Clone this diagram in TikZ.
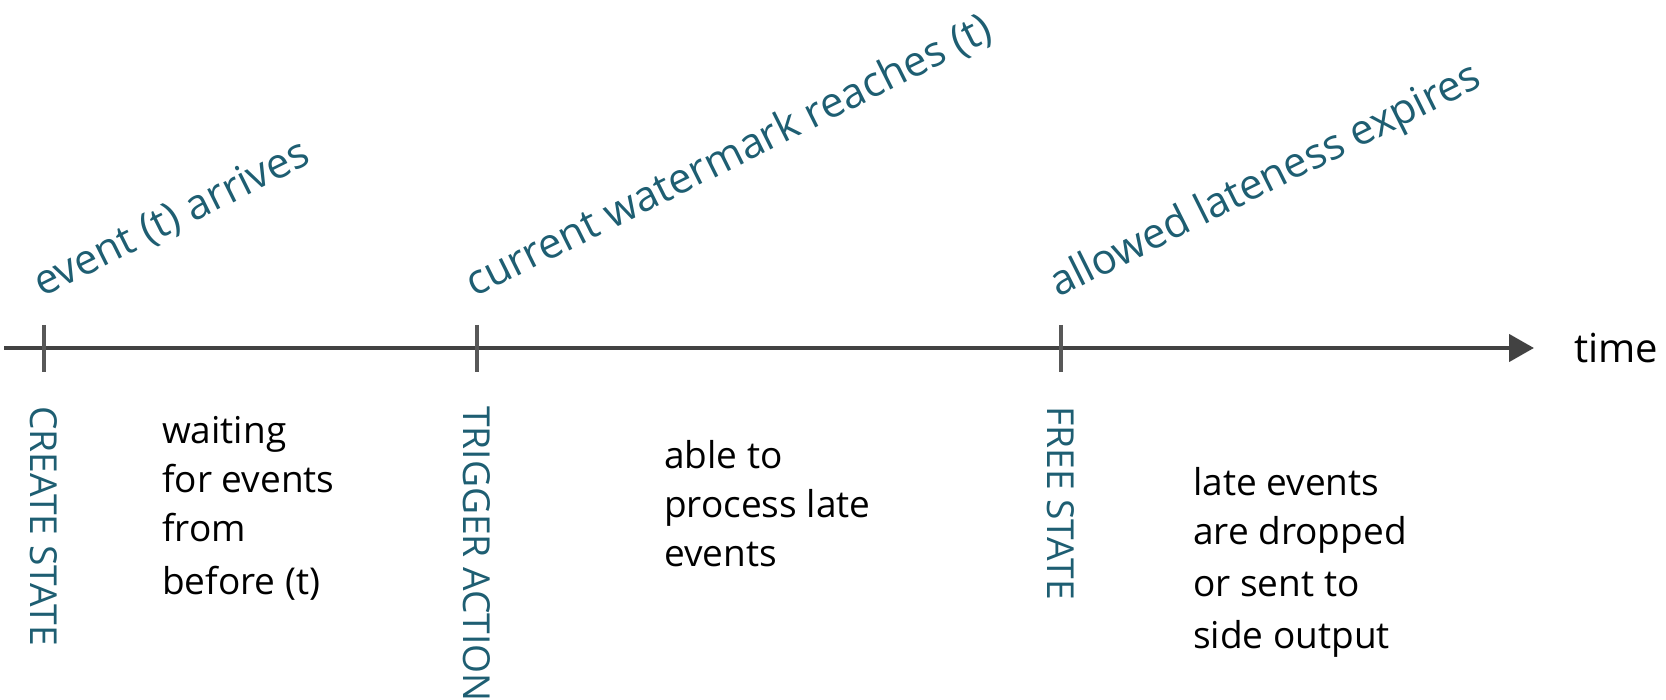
\documentclass[tikz,border=0pt]{standalone}
\usepackage{fontspec}
\setmainfont{Open Sans}
\usetikzlibrary{arrows.meta}
\definecolor{labelteal}{RGB}{30,94,114}
\definecolor{axisgray}{RGB}{66,66,66}
\definecolor{tickgray}{RGB}{88,88,88}
\begin{document}
\begin{tikzpicture}[x=1pt,y=-1pt,
  axisline/.style={draw=axisgray,line width=4.5pt,-{Triangle[length=25pt,width=27pt]}},
  tickline/.style={draw=tickgray,line width=3.5pt},
  vlabel/.style={rotate=-90,anchor=west,inner sep=0pt,text=labelteal,font=\fontsize{37.2}{45}\selectfont},
  slabel/.style={rotate=26.5,anchor=base west,inner sep=0pt,text=labelteal,font=\fontsize{42}{50}\selectfont},
  bodytext/.style={anchor=base west,inner sep=0pt,align=left,text=black,font=\fontsize{37}{49}\selectfont},
]
\path[use as bounding box] (0,0) rectangle (1666,700);

% axis
\coordinate (axstart) at (4,348);
\coordinate (axend) at (1534,348);
\draw[axisline] (axstart) -- (axend);
\node[anchor=base west,inner sep=0pt,font=\fontsize{40}{48}\selectfont] (time) at (1574,363) {time};

% ticks
\coordinate (t1a) at (44,325);  \coordinate (t1b) at (44,372);
\coordinate (t2a) at (477,325); \coordinate (t2b) at (477,372);
\coordinate (t3a) at (1061,325); \coordinate (t3b) at (1061,372);
\draw[tickline] (t1a) -- (t1b);
\draw[tickline] (t2a) -- (t2b);
\draw[tickline] (t3a) -- (t3b);

% slanted labels
\node[slabel] (ev) at (42,298) {event (t) arrives};
\node[slabel] (wm) at (474,298) {current watermark reaches (t)};
\node[slabel] (al) at (1058,298) {allowed lateness expires};

% vertical labels
\node[vlabel] (create) at (44,406) {CREATE STATE};
\node[vlabel] (trigger) at (477,406) {TRIGGER ACTION};
\node[vlabel] (free) at (1061,406) {FREE STATE};

% descriptions
\node[bodytext] (waiting) at (162,594) {waiting\\for events\\from\\[4pt]before (t)};
\node[bodytext] (able) at (664,566) {able to\\process late\\events};
\node[bodytext] (late) at (1193,648) {late events\\are dropped\\[3pt]or sent to\\[3pt]side output};
\end{tikzpicture}
\end{document}
